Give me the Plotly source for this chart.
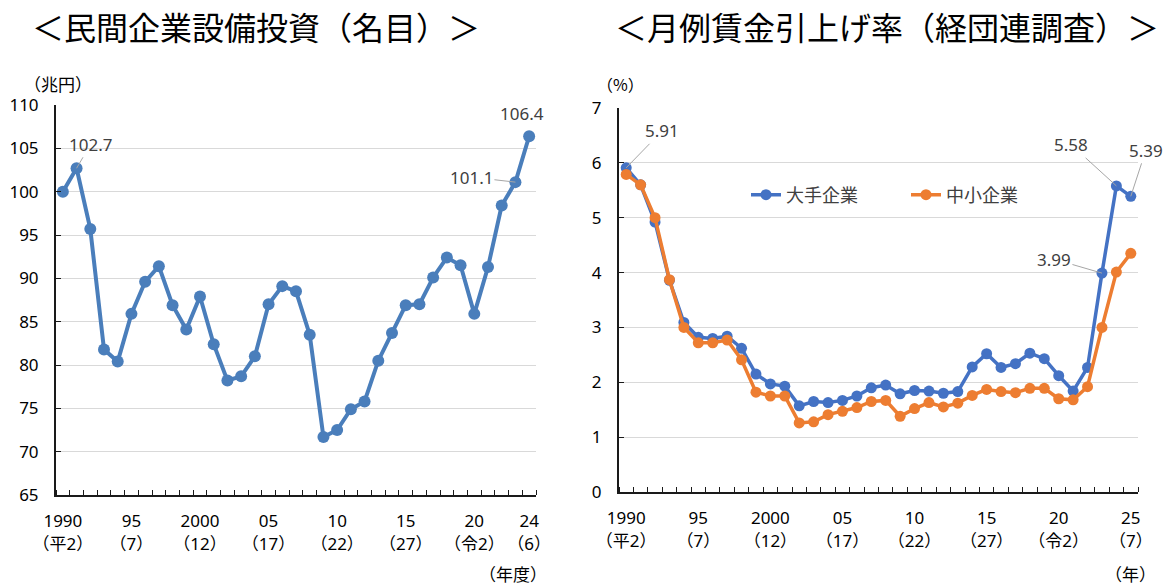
import plotly.graph_objects as go

# ---------------- data ----------------
years_capex = list(range(1990, 2025))
capex = [100.0, 102.7, 95.7, 81.8, 80.4, 85.9, 89.6, 91.4, 86.9, 84.1,
         87.9, 82.4, 78.2, 78.7, 81.0, 87.0, 89.1, 88.5, 83.5, 71.7,
         72.5, 74.9, 75.8, 80.5, 83.7, 86.9, 87.0, 90.1, 92.4, 91.5,
         85.9, 91.3, 98.4, 101.1, 106.4]

years_wage = list(range(1990, 2026))
wage_large = [5.91, 5.60, 4.92, 3.86, 3.09, 2.82, 2.80, 2.84, 2.62, 2.15,
              1.97, 1.93, 1.57, 1.65, 1.63, 1.67, 1.75, 1.90, 1.95, 1.79,
              1.85, 1.84, 1.80, 1.83, 2.28, 2.52, 2.27, 2.34, 2.53, 2.43,
              2.12, 1.84, 2.27, 3.99, 5.58, 5.39]
wage_small = [5.79, 5.60, 5.00, 3.87, 3.00, 2.72, 2.72, 2.77, 2.41, 1.82,
              1.75, 1.75, 1.26, 1.28, 1.41, 1.47, 1.54, 1.65, 1.67, 1.38,
              1.52, 1.63, 1.55, 1.62, 1.76, 1.87, 1.83, 1.81, 1.89, 1.89,
              1.70, 1.68, 1.92, 3.00, 4.01, 4.35]

capex_tickvals = [1990, 1995, 2000, 2005, 2010, 2015, 2020, 2024]
capex_ticktext = ["1990<br>（平2）", "95<br>（7）", "2000<br>（12）", "05<br>（17）",
                  "10<br>（22）", "15<br>（27）", "20<br>（令2）", "24<br>（6）"]
wage_tickvals = [1990, 1995, 2000, 2005, 2010, 2015, 2020, 2025]
wage_ticktext = ["1990<br>（平2）", "95<br>（7）", "2000<br>（12）", "05<br>（17）",
                 "10<br>（22）", "15<br>（27）", "20<br>（令2）", "25<br>（7）"]

series_names = ["大手企業", "中小企業"]
title_left = "＜民間企業設備投資（名目）＞"
title_right = "＜月例賃金引上げ率（経団連調査）＞"

# ---------------- styling ----------------
OFF = 0                      # page body margin removed via post_script
W, H = 1166 - OFF, 585 - OFF
FONT = "Noto Sans, Noto Sans CJK JP, sans-serif"
CJK = "Noto Sans CJK JP, sans-serif"
C_LEFT = "#4A7EBB"
C_BLUE = "#4472C4"
C_ORANGE = "#ED7D31"
GRID = "#D9D9D9"
LABEL = "#404040"


def fx(p):
    return (p - OFF) / W


def fy(p):
    return 1 - (p - OFF) / H


fig = go.Figure()

fig.add_trace(go.Scatter(
    x=years_capex, y=capex, mode="lines+markers", xaxis="x", yaxis="y",
    line=dict(color=C_LEFT, width=4), marker=dict(color=C_LEFT, size=12),
    showlegend=False, name="民間企業設備投資"))

fig.add_trace(go.Scatter(
    x=years_wage, y=wage_large, mode="lines+markers", xaxis="x2", yaxis="y2",
    line=dict(color=C_BLUE, width=3.5), marker=dict(color=C_BLUE, size=11),
    name=series_names[0]))
fig.add_trace(go.Scatter(
    x=years_wage, y=wage_small, mode="lines+markers", xaxis="x2", yaxis="y2",
    line=dict(color=C_ORANGE, width=3.5), marker=dict(color=C_ORANGE, size=11),
    name=series_names[1]))

tickfont = dict(family=FONT, size=17, color="#000000")


def xaxis_cfg(domain, first, last, tickvals, ticktext, anchor):
    return dict(
        domain=domain, range=[first - 0.5, last + 0.5], anchor=anchor,
        tickmode="array", tickvals=tickvals, ticktext=ticktext,
        ticks="", showgrid=False, zeroline=False, tickangle=0, automargin=False,
        showline=True, linecolor="#1a1a1a", linewidth=2,
        tickfont=tickfont, ticklabelstandoff=10,
        minor=dict(tickmode="linear", tick0=first - 0.5, dtick=1,
                   ticks="inside", ticklen=5, tickwidth=1,
                   tickcolor="#1a1a1a", showgrid=False),
    )


def yaxis_cfg(domain, rng, dtick, anchor):
    return dict(
        domain=domain, range=rng, dtick=dtick, tick0=rng[0], anchor=anchor,
        showgrid=True, gridcolor=GRID, gridwidth=1, zeroline=False, automargin=False,
        showline=True, linecolor="#1a1a1a", linewidth=2,
        ticks="inside", ticklen=5, tickcolor="#1a1a1a",
        tickfont=tickfont, ticklabelstandoff=12,
    )


fig.update_layout(
    width=W, height=H,
    margin=dict(l=0, r=0, t=0, b=0, autoexpand=False),
    paper_bgcolor="white", plot_bgcolor="white",
    font=dict(family=FONT, size=17, color="#000000"),
    xaxis=xaxis_cfg([fx(56), fx(536)], years_capex[0], years_capex[-1],
                    capex_tickvals, capex_ticktext, "y"),
    yaxis=yaxis_cfg([fy(495), fy(105)], [65, 110], 5, "x"),
    xaxis2=xaxis_cfg([fx(619), fx(1138)], years_wage[0], years_wage[-1],
                     wage_tickvals, wage_ticktext, "y2"),
    yaxis2=yaxis_cfg([fy(492), fy(108)], [0, 7], 1, "x2"),
    legend=dict(orientation="h", x=fx(746), y=fy(195), xanchor="left",
                yanchor="middle", font=dict(family=CJK, size=18, color=LABEL),
                bgcolor="rgba(0,0,0,0)", entrywidth=115),
    showlegend=True,
)

ann = []
# titles
title_font = dict(family=CJK, size=32, color="#000000")
ann.append(dict(text=title_left, x=fx(256), y=fy(26), xref="paper", yref="paper",
                xanchor="center", yanchor="middle", showarrow=False, font=title_font))
ann.append(dict(text=title_right, x=fx(887), y=fy(26), xref="paper", yref="paper",
                xanchor="center", yanchor="middle", showarrow=False, font=title_font))
# units
unit_font = dict(family=CJK, size=17, color="#000000")
for txt, cx, cy, sz in [("（兆円）", 58, 84, 17), ("（%）", 620, 84, 16),
                        ("（年度）", 513, 573, 17), ("（年）", 1130, 573, 17)]:
    ann.append(dict(text=txt, x=fx(cx), y=fy(cy), xref="paper", yref="paper",
                    xanchor="center", yanchor="middle",
                    showarrow=False, font=dict(family=CJK, size=sz, color="#000000")))

lab_font = dict(family=FONT, size=17, color=LABEL)


def data_label(xref, yref, xs, ys, i, ax, ay, fmt, arrow=True):
    return dict(x=xs[i], y=ys[i], xref=xref, yref=yref, text=fmt.format(ys[i]),
                showarrow=True, arrowhead=0, arrowwidth=1,
                arrowcolor="#A6A6A6" if arrow else "rgba(0,0,0,0)",
                ax=ax, ay=ay, font=lab_font, standoff=0)


ann.append(data_label("x", "y", years_capex, capex, 1, 14, -24, "{:.1f}"))
ann.append(data_label("x", "y", years_capex, capex, 33, -44, -5, "{:.1f}"))
ann.append(data_label("x", "y", years_capex, capex, 34, -7, -23, "{:.1f}", arrow=False))

ann.append(data_label("x2", "y2", years_wage, wage_large, 0, 36, -37, "{:.2f}"))
ann.append(data_label("x2", "y2", years_wage, wage_large, 33, -48, -14, "{:.2f}"))
ann.append(data_label("x2", "y2", years_wage, wage_large, 34, -45, -41, "{:.2f}"))
ann.append(data_label("x2", "y2", years_wage, wage_large, 35, 15, -46, "{:.2f}"))

fig.update_layout(annotations=ann)

fig.write_html("out.html",
               config={"displayModeBar": False},
               post_script="document.body.style.margin='0';"
                           "document.body.style.overflow='hidden';")
